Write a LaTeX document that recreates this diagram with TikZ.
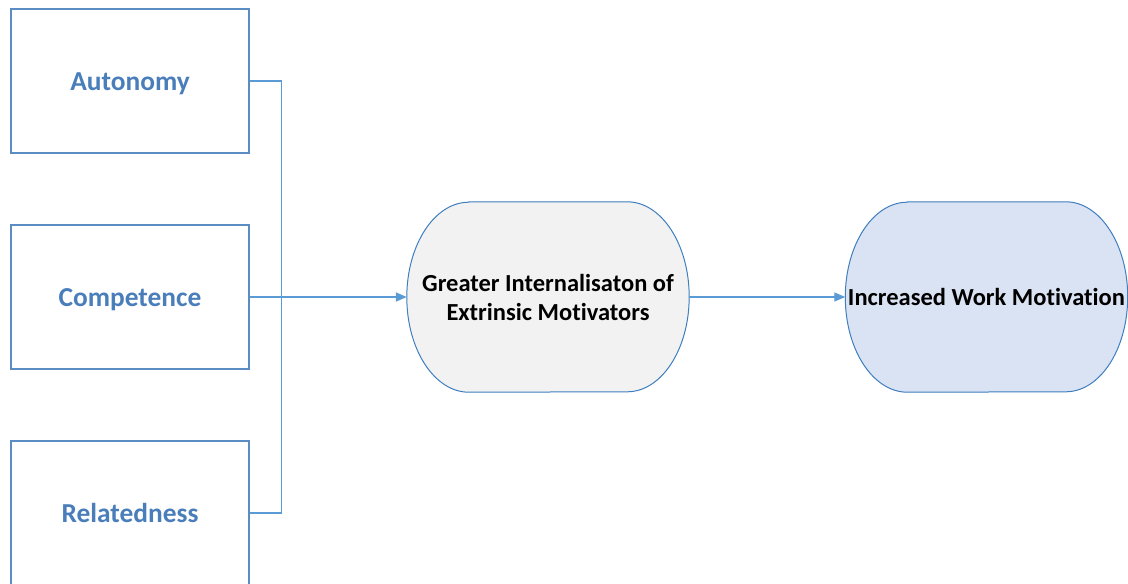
\documentclass[tikz,border=0pt]{standalone}
\usepackage{fontspec}
\setmainfont{Carlito}[Ligatures=NoCommon]
\usetikzlibrary{arrows.meta,calc}

\definecolor{boxline}{HTML}{5B8CC4}
\definecolor{boxtext}{HTML}{4A7EBB}
\definecolor{wire}{HTML}{5B9BD5}
\definecolor{capline}{HTML}{3F7FC0}
\definecolor{greyfill}{HTML}{F2F2F2}
\definecolor{bluefill}{HTML}{DAE3F3}
\definecolor{shadowA}{HTML}{FBE8BC}
\definecolor{shadowB}{HTML}{F6CDB0}

% stadium outline around a node: #1 node, #2 horizontal radius, #3 vertical radius
\newcommand\capsulepath[3]{%
  ($(#1.north west)+(#2,0)$) -- ($(#1.north east)+(-#2,0)$)
  arc[start angle=90,end angle=-90,x radius=#2pt,y radius=#3pt]
  -- ($(#1.south west)+(#2,0)$)
  arc[start angle=270,end angle=90,x radius=#2pt,y radius=#3pt] -- cycle}

\tikzset{
  factor/.style={draw=boxline,line width=1.1pt,minimum width=238pt,minimum height=144pt,
    inner sep=0pt},
  factortext/.style={text=boxtext,inner sep=0pt,font=\fontsize{27.4}{30}\selectfont\bfseries},
  capsule/.style={minimum width=282pt,minimum height=190pt,inner sep=0pt,align=center,
    font=\fontsize{24.5}{29}\selectfont\bfseries},
  wireline/.style={draw=wire,line width=1.1pt},
  arrowtip/.style={-{Triangle[length=11pt,width=9pt]}}
}

\begin{document}
\begin{tikzpicture}[x=1pt,y=-1pt]
  \useasboundingbox (0,0) rectangle (1128,584);

  % the three factors
  \node[factor] (aut) at (130,81) {};
  \node[factor] (comp) at (130,297) {};
  \begin{scope}
    \clip (0,0) rectangle (1128,584);
    \node[factor] (rel) at (130,513) {};
  \end{scope}
  \node[factortext,anchor=base] at ($(aut)+(0,9)$) {Autonomy};
  \node[factortext,anchor=base] at ($(comp)+(0,9)$) {Competence};
  \node[factortext,anchor=base] at ($(rel)+(0,9)$) {Relatedness};

  % the two outcomes
  \node[capsule] (intern) at (548,297) {};
  \node[capsule] (motiv) at (986.5,297) {};

  \fill[shadowA] [shift={(1,2.5)}] \capsulepath{intern}{62}{95};
  \fill[shadowB] [shift={(1,2.5)}] \capsulepath{motiv}{62}{95};
  \filldraw[fill=greyfill,draw=capline,line width=1pt] \capsulepath{intern}{62}{95};
  \filldraw[fill=bluefill,draw=capline,line width=1pt] \capsulepath{motiv}{62}{95};

  \node[capsule] at (intern) {Greater Internalisaton of\\Extrinsic Motivators};
  \node[capsule] at (motiv) {Increased Work Motivation};

  % connectors
  \coordinate (bus) at ($(comp.east)+(32,0)$);
  \draw[wireline] (aut.east) -| (bus) |- (rel.east);
  \draw[wireline] (comp.east) -- (bus);
  \draw[wireline,line width=1.8pt,arrowtip] (bus) -- (intern.west);
  \draw[wireline,arrowtip] (intern.east) -- (motiv.west);
\end{tikzpicture}
\end{document}
